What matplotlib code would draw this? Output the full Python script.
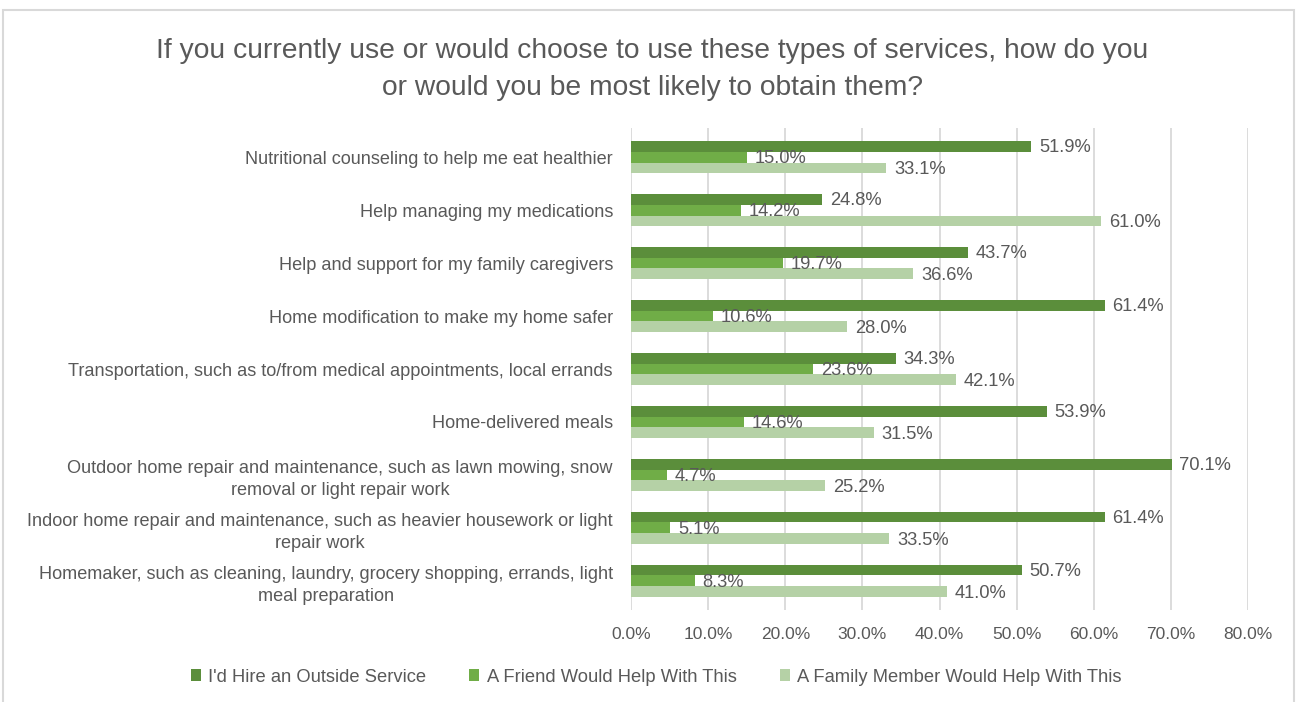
import numpy as np
import matplotlib.pyplot as plt
from matplotlib.patches import Rectangle, Patch

plt.rcParams['font.family'] = ['Liberation Sans', 'DejaVu Sans']

title = ("If you currently use or would choose to use these types of services, how do you\n"
         "or would you be most likely to obtain them?")

categories = [
    "Nutritional counseling to help me eat healthier",
    "Help managing my medications",
    "Help and support for my family caregivers",
    "Home modification to make my home safer",
    "Transportation, such as to/from medical appointments, local errands",
    "Home-delivered meals",
    "Outdoor home repair and maintenance, such as lawn mowing, snow\nremoval or light repair work",
    "Indoor home repair and maintenance, such as heavier housework or light\nrepair work",
    "Homemaker, such as cleaning, laundry, grocery shopping, errands, light\nmeal preparation",
]

series_names = ["I'd Hire an Outside Service",
                "A Friend Would Help With This",
                "A Family Member Would Help With This"]

hire = [51.9, 24.8, 43.7, 61.4, 34.3, 53.9, 70.1, 61.4, 50.7]
friend = [15.0, 14.2, 19.7, 10.6, 23.6, 14.6, 4.7, 5.1, 8.3]
family = [33.1, 61.0, 36.6, 28.0, 42.1, 31.5, 25.2, 33.5, 41.0]

colors = ["#5B8E3B", "#70AD47", "#B5D1A6"]
text_color = "#595959"

fig = plt.figure(figsize=(12.97, 7.02), dpi=100)
ax = fig.add_axes([631 / 1297, 1 - 610 / 702, (1248 - 631) / 1297, (610 - 128) / 702])

y = np.arange(len(categories))
h = 0.205
for i, (vals, col) in enumerate(zip([hire, friend, family], colors)):
    pos = y + (i - 1) * h
    ax.barh(pos, vals, height=h, color=col, zorder=3)
    for p, v in zip(pos, vals):
        ax.text(v + 1.0, p + 0.03, f"{v:.1f}%", va='center', ha='left',
                fontsize=13.2, color=text_color, zorder=4)

ax.set_xlim(0, 80)
ax.set_ylim(8.55, -0.55)
ax.set_xticks(np.arange(0, 81, 10))
ax.set_xticklabels([f"{t:.1f}%" for t in np.arange(0, 81, 10)], fontsize=12.5, color=text_color)
ax.set_yticks(y)
ax.set_yticklabels(categories, fontsize=13.1, color=text_color,
                   multialignment='center', linespacing=1.4)
ax.tick_params(length=0)
ax.tick_params(axis='x', pad=12)
ax.tick_params(axis='y', pad=13)
ax.grid(axis='x', color='#D9D9D9', linewidth=1.3, zorder=0)
for s in ax.spines.values():
    s.set_visible(False)

fig.text(652 / 1297, 1 - 69.5 / 702, title, ha='center', va='center', fontsize=20.3,
         color=text_color, linespacing=1.53)

handles = [Patch(facecolor=c, edgecolor='none') for c in colors]
fig.legend(handles, series_names, loc='center', bbox_to_anchor=(656 / 1297, 1 - 677 / 702),
           ncol=3, frameon=False, fontsize=13.2, labelcolor=text_color,
           handlelength=0.55, handleheight=0.55, handletextpad=0.4, columnspacing=2.35)

fig.patches.append(Rectangle((3 / 1297, -0.01), 1291 / 1297, 1 - 10 / 702 + 0.01,
                             transform=fig.transFigure, fill=False,
                             edgecolor='#D9D9D9', linewidth=1.5))

fig.savefig("out.png", dpi=100)
